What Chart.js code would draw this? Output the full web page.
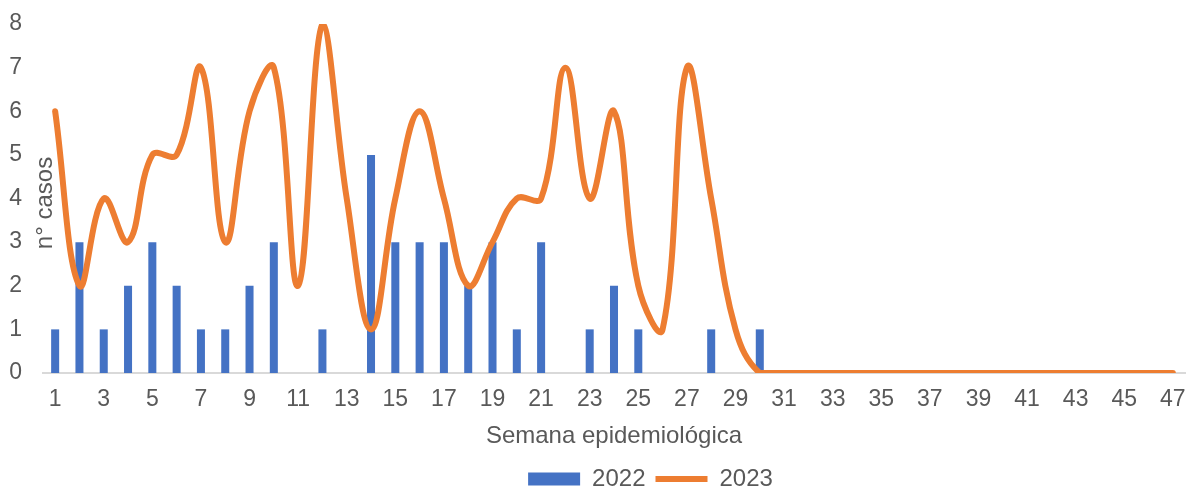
<!DOCTYPE html>
<html>
<head>
<meta charset="utf-8">
<script src="https://cdn.jsdelivr.net/npm/chart.js@4/dist/chart.umd.min.js"></script>
<style>
    html, body { margin: 0; padding: 0; background: #fff; }
    #wrap { width: 1188px; height: 488px; }
</style>
</head>
<body>
<div id="wrap"><canvas id="chart"></canvas></div>
<script>
// semanas epidemiológicas 1..47
const semanas = [];
for (let i = 1; i <= 47; i++) semanas.push(String(i));

const casos2022 = [1, 3, 1, 2, 3, 2, 1, 1, 2, 3, 0, 1, 0, 5, 3, 3, 3, 2, 3, 1, 3, 0, 1, 2, 1, 0, 0, 1, 0, 1,
    0, 0, 0, 0, 0, 0, 0, 0, 0, 0, 0, 0, 0, 0, 0, 0, 0];
const casos2023 = [6, 2, 4, 3, 5, 5, 7, 3, 6, 7, 2, 8, 4, 1, 4, 6, 4, 2, 3, 4, 4, 7, 4, 6, 2, 1, 7, 4, 1, 0,
    0, 0, 0, 0, 0, 0, 0, 0, 0, 0, 0, 0, 0, 0, 0, 0, 0];

const yTicks = [0, 1, 2, 3, 4, 5, 6, 7, 8];

const textColor = "#595959";
const fontFamily = "'Liberation Sans', Arial, sans-serif";

// y axis title sits inside the plot like the excel original
const yTitlePlugin = {
    id: "yTitle",
    afterDraw(chart) {
        const ctx = chart.ctx;
        ctx.save();
        ctx.translate(45, 203);
        ctx.rotate(-Math.PI / 2);
        ctx.fillStyle = textColor;
        ctx.font = "24px " + fontFamily;
        ctx.textAlign = "center";
        ctx.textBaseline = "middle";
        ctx.fillText("n° casos", 0, 0);
        ctx.restore();
    },
};

// legend is shifted a bit right of centre in the original
const legendShift = {
    id: "legendShift",
    afterLayout(chart) {
        chart.legend.left += 58;
        chart.legend.right += 58;
    },
};

new Chart(document.getElementById("chart"), {
    type: "bar",
    data: {
        labels: semanas,
        datasets: [
            {
                type: "line",
                label: "2023",
                data: casos2023,
                borderColor: "#ED7D31",
                backgroundColor: "#ED7D31",
                borderWidth: 6,
                borderCapStyle: "round",
                pointRadius: 0,
                pointStyle: "line",
                tension: 0.4,
                order: 0,
            },
            {
                label: "2022",
                data: casos2022,
                backgroundColor: "#4472C4",
                barPercentage: 0.33,
                categoryPercentage: 1,
                pointStyle: "rect",
                order: 1,
            },
        ],
    },
    options: {
        responsive: true,
        maintainAspectRatio: false,
        animation: false,
        layout: { autoPadding: false, padding: { top: 24, right: 3, left: 0, bottom: -13 } },
        plugins: {
            tooltip: { enabled: false },
            legend: {
                position: "bottom",
                reverse: true,
                labels: {
                    usePointStyle: true,
                    pointStyleWidth: 52,
                    boxHeight: 13,
                    padding: 10,
                    color: textColor,
                    font: { family: fontFamily, size: 24 },
                },
            },
        },
        scales: {
            x: {
                // tick marks are hidden (grid off) but tickLength still spaces the labels
                grid: { display: false, drawTicks: true, tickLength: 13 },
                border: { color: "#D9D9D9", width: 2 },
                ticks: {
                    autoSkip: false,
                    maxRotation: 0,
                    padding: 0,
                    color: textColor,
                    font: { family: fontFamily, size: 23 },
                    callback: (v, i) => (i % 2 === 0 ? semanas[i] : ""),
                },
                title: {
                    display: true,
                    text: "Semana epidemiológica",
                    color: textColor,
                    font: { family: fontFamily, size: 24 },
                    padding: { top: 0, bottom: 6 },
                },
                afterFit: (scale) => { scale.height = 84; },
            },
            y: {
                min: 0,
                max: 8,
                grid: { display: false, drawTicks: true, tickLength: 21 },
                border: { display: false },
                afterBuildTicks: (scale) => { scale.ticks = yTicks.map((v) => ({ value: v })); },
                ticks: {
                    padding: 0,
                    color: textColor,
                    font: { family: fontFamily, size: 23 },
                },
                afterFit: (scale) => { scale.width = 43; },
            },
        },
    },
    plugins: [yTitlePlugin, legendShift],
});
</script>
</body>
</html>
